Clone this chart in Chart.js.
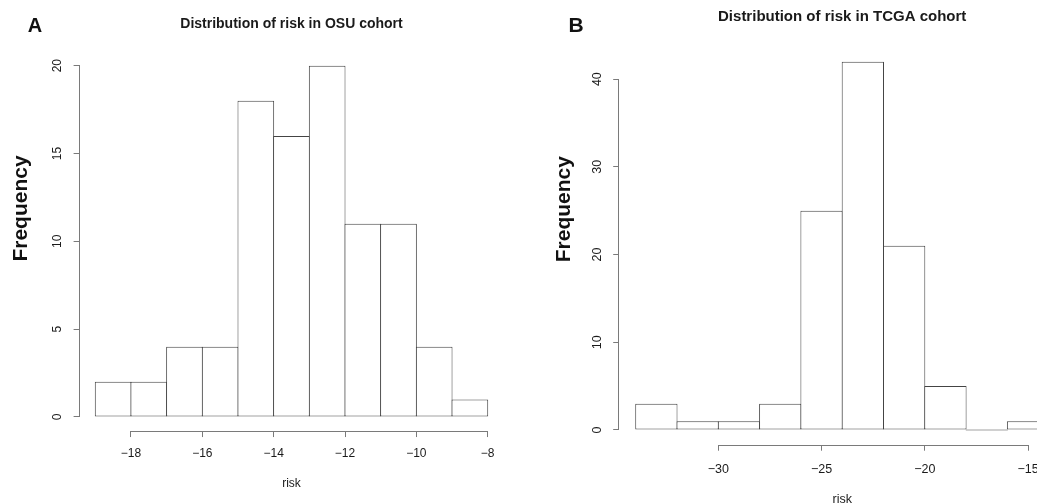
<!DOCTYPE html>
<html>
<head>
<meta charset="utf-8">
<script src="https://cdn.jsdelivr.net/npm/chart.js@4/dist/chart.umd.min.js"></script>
<style>
html, body { margin: 0; padding: 0; width: 1037px; height: 504px; overflow: hidden; background: #ffffff; }
.panel { position: absolute; top: 0; height: 504px; }
</style>
</head>
<body>
<div class="panel" style="left:0; width:518px;"><canvas id="chartA" width="518" height="504"></canvas></div>
<div class="panel" style="left:518px; width:572px;"><canvas id="chartB" width="572" height="504"></canvas></div>
<script>
// ---------- Panel A: OSU cohort ----------
const osuBinStarts = [-19, -18, -17, -16, -15, -14, -13, -12, -11, -10, -9];
const osuBinWidth = 1;
const osuCounts = [2, 2, 4, 4, 18, 16, 20, 11, 11, 4, 1];
const osuXTicks = [-18, -16, -14, -12, -10, -8];
const osuXTickLabels = ["\u221218", "\u221216", "\u221214", "\u221212", "\u221210", "\u22128"];
const osuYTicks = [0, 5, 10, 15, 20];
const osuYTickLabels = ["0", "5", "10", "15", "20"];

// ---------- Panel B: TCGA cohort ----------
const tcgaBinStarts = [-34, -32, -30, -28, -26, -24, -22, -20, -18, -16];
const tcgaBinWidth = 2;
const tcgaCounts = [3, 1, 1, 3, 25, 42, 21, 5, 0, 1];
const tcgaXTicks = [-30, -25, -20, -15];
const tcgaXTickLabels = ["\u221230", "\u221225", "\u221220", "\u221215"];
const tcgaYTicks = [0, 10, 20, 30, 40];
const tcgaYTickLabels = ["0", "10", "20", "30", "40"];

const FAMILY = "'Liberation Sans', Arial, Helvetica, sans-serif";
const TEXT_COLOR = '#1a1a1a';
const AXIS_COLOR = '#7a7a7a';
const BAR_EDGE = '#444444';

// R-style detached axis lines spanning first..last tick
const rAxisPlugin = {
  id: 'rAxis',
  afterDraw(chart) {
    const { ctx, scales: { x, y } } = chart;
    const xt = x.ticks, yt = y.ticks;
    const align = v => Math.round(v - 0.5) + 0.5;
    ctx.save();
    ctx.strokeStyle = AXIS_COLOR;
    ctx.lineWidth = 1;
    ctx.beginPath();
    const ay = Math.round(x.top) + 0.5;
    ctx.moveTo(align(x.getPixelForValue(xt[0].value)), ay);
    ctx.lineTo(align(x.getPixelForValue(xt[xt.length - 1].value)), ay);
    const ax = Math.round(y.right) - 0.5;
    ctx.moveTo(ax, align(y.getPixelForValue(yt[0].value)));
    ctx.lineTo(ax, align(y.getPixelForValue(yt[yt.length - 1].value)));
    ctx.stroke();
    ctx.restore();
  }
};

function textPlugin(p) {
  return {
    id: 'rText',
    afterDraw(chart) {
      const ctx = chart.ctx, ca = chart.chartArea;
      ctx.save();
      ctx.fillStyle = TEXT_COLOR;
      ctx.textAlign = 'center';
      ctx.textBaseline = 'alphabetic';
      ctx.font = 'bold ' + p.titleSize + 'px ' + FAMILY;
      ctx.fillText(p.title, (ca.left + ca.right) / 2, p.titleBaseline);
      ctx.fillStyle = '#111111';
      ctx.font = 'bold ' + p.letterSize + 'px ' + FAMILY;
      ctx.fillText(p.letter, p.letterX, p.letterBaseline);
      ctx.translate(p.freqBaselineX, p.freqY);
      ctx.rotate(-Math.PI / 2);
      ctx.font = 'bold ' + p.freqSize + 'px ' + FAMILY;
      ctx.fillText('Frequency', 0, 0);
      ctx.restore();
    }
  };
}

function histChart(id, p) {
  const centers = p.starts.map(s => s + p.width / 2);
  const lo = p.starts[0];
  const hi = p.starts[p.starts.length - 1] + p.width;
  const xExt = (hi - lo) * 0.04;
  const ymax = Math.max(...p.counts);
  return new Chart(document.getElementById(id), {
    type: 'bar',
    data: {
      datasets: [{
        data: centers.map((c, i) => ({ x: c, y: p.counts[i] })),
        backgroundColor: '#ffffff',
        borderColor: BAR_EDGE,
        borderWidth: 1,
        borderSkipped: false,
        barPercentage: p.barPct,
        categoryPercentage: 1,
        inflateAmount: 0,
        minBarLength: 1
      }]
    },
    options: {
      responsive: false,
      animation: false,
      devicePixelRatio: 1,
      layout: { padding: { left: 0, top: p.padTop, right: p.padRight, bottom: 0 } },
      plugins: { legend: { display: false }, tooltip: { enabled: false }, title: { display: false } },
      scales: {
        x: {
          type: 'linear',
          min: lo - xExt,
          max: hi + xExt,
          offset: false,
          afterBuildTicks: s => { s.ticks = p.xTicks.map(v => ({ value: v })); },
          afterFit: s => { s.height = p.xAxisH; },
          border: { display: false },
          grid: { display: true, offset: false, drawOnChartArea: false, drawTicks: true, tickLength: 6, color: AXIS_COLOR, lineWidth: 1 },
          ticks: {
            autoSkip: false, minRotation: 0, maxRotation: 0, padding: p.xTickPad,
            color: TEXT_COLOR, font: { family: FAMILY, size: p.tickSize },
            callback: (v, i) => p.xLabels[i]
          },
          title: { display: true, text: 'risk', color: TEXT_COLOR, font: { family: FAMILY, size: p.tickSize }, padding: { top: 0, bottom: p.xTitlePad } }
        },
        y: {
          type: 'linear',
          min: -ymax * 0.04,
          max: ymax * 1.04,
          afterBuildTicks: s => { s.ticks = p.yTicks.map(v => ({ value: v })); },
          afterFit: s => { s.width = p.yAxisW; },
          border: { display: false },
          grid: { display: true, drawOnChartArea: false, drawTicks: true, tickLength: 6, color: AXIS_COLOR, lineWidth: 1 },
          ticks: {
            autoSkip: false, minRotation: 90, maxRotation: 90, crossAlign: 'center', padding: p.yTickPad,
            color: TEXT_COLOR, font: { family: FAMILY, size: p.tickSize },
            callback: (v, i) => p.yLabels[i]
          }
        }
      }
    },
    plugins: [rAxisPlugin, textPlugin(p)]
  });
}

histChart('chartA', {
  starts: osuBinStarts, width: osuBinWidth, counts: osuCounts,
  xTicks: osuXTicks, xLabels: osuXTickLabels, yTicks: osuYTicks, yLabels: osuYTickLabels,
  barPct: 1.028,
  padTop: 51.6, padRight: 14.6, yAxisW: 79.6, xAxisH: 72.95,
  tickSize: 12, xTickPad: 9.8, yTickPad: 9.4, xTitlePad: 12.8,
  title: 'Distribution of risk in OSU cohort', titleSize: 14, titleBaseline: 28.3,
  letter: 'A', letterSize: 20, letterX: 35, letterBaseline: 32.3,
  freqSize: 21, freqBaselineX: 27, freqY: 208.5
});

histChart('chartB', {
  starts: tcgaBinStarts, width: tcgaBinWidth, counts: tcgaCounts,
  xTicks: tcgaXTicks, xLabels: tcgaXTickLabels, yTicks: tcgaYTicks, yLabels: tcgaYTickLabels,
  barPct: 1.0242,
  padTop: 46.9, padRight: 24.8, yAxisW: 101.2, xAxisH: 59.3,
  tickSize: 12.5, xTickPad: 10.9, yTickPad: 8.5, xTitlePad: -2.7,
  title: 'Distribution of risk in TCGA cohort', titleSize: 15, titleBaseline: 20.7,
  letter: 'B', letterSize: 21, letterX: 58, letterBaseline: 31.7,
  freqSize: 21, freqBaselineX: 52, freqY: 209.2
});
</script>
</body>
</html>
